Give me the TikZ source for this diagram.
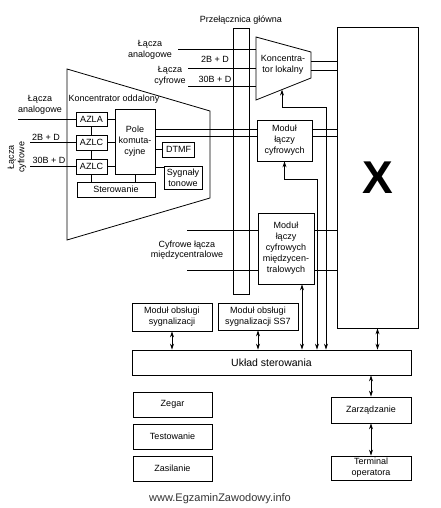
\documentclass[tikz,border=0pt]{standalone}
\usepackage{fontspec}
\setmainfont{Liberation Sans}
\usetikzlibrary{arrows.meta}

\tikzstyle{modul}=[draw,rectangle,inner sep=1pt,align=center,
    font=\fontsize{9}{11}\selectfont]
\tikzstyle{opis}=[inner sep=0pt,align=center,
    font=\fontsize{9}{10.5}\selectfont]
\tikzstyle{wire}=[line width=0.8pt]
\newcommand{\modul}[6][]{
    \node[modul,minimum width=#4pt,minimum height=#5pt,#1] at (#2) (#3) {#6};
}
\newcommand{\controlarrow}[3][]{\draw[<->,wire,#1] (#2)--(#3);}

\begin{document}
\begin{tikzpicture}[x=1pt,y=-1pt,line width=0.8pt,
    >={Stealth[length=6pt,width=4pt]}]
    \useasboundingbox (0,0) rectangle (440,508);
    % koncentrator oddalony
    \draw (67,69) -- (210,111) -- (210,198) -- (67,240) -- cycle;
    \node[opis] at (114,99) (ko) {Koncentrator oddalony};
    \modul{91.5,119}{azla}{31}{14}{AZLA}
    \modul{91.5,142.5}{azlc1}{31}{15}{AZLC}
    \modul{91.5,166.5}{azlc2}{31}{15}{AZLC}
    \modul{135,141.5}{pole}{40}{65}{Pole\\komuta-\\cyjne}
    \modul{178.5,149.5}{dtmf}{32}{15}{DTMF}
    \modul{183,177.5}{syg}{38}{23}{Sygnały\\tonowe}
    \modul{116,189.5}{ster}{78}{15}{Sterowanie}
    \draw (azla) -- (azlc1);
    \draw (azlc1) -- (azlc2);
    \draw (azlc2.south) -- (azlc2.south |- ster.north);
    \draw (pole.south) -- (pole.south |- ster.north);
    \draw (azla.east) -- (azla.east -| pole.west);
    \draw (azlc1.east) -- (azlc1.east -| pole.west);
    \draw (azlc2.east) -- (azlc2.east -| pole.west);
    \draw (dtmf.west -| pole.east) -- (dtmf.west);
    \coordinate (syg-in) at ([yshift=-2pt]syg.north west);
    \draw (syg-in -| pole.east) -- (syg-in);
    %
    \coordinate (b1) at (18,119);
    \coordinate (b2) at (30,142.5);
    \coordinate (b3) at (30,166.5);
    \draw (b1) -- (azla.west);
    \draw (b2) -- (azlc1.west);
    \draw (b3) -- (azlc2.west);
    \node[opis] at (40,105) {Łącza\\analogowe};
    \node[opis] at (46,137) {2B + D};
    \node[opis] at (49,160.5) {30B + D};
    \node[opis,rotate=90] at (17,157) {Łącza\\cyfrowe};
    % przelacznica
    \node[draw,minimum width=16pt,minimum height=266pt] at (241,161) (prz) {};
    \node[opis] at (241,20) {Przełącznica główna};
    % koncentrator lokalny
    \coordinate (kl-nw) at (256,37);
    \coordinate (kl-ne) at (311,52);
    \coordinate (kl-se) at (311,78);
    \coordinate (kl-sw) at (256,100);
    \draw (kl-nw) -- (kl-ne) -- (kl-se) -- (kl-sw) -- cycle;
    \node[opis] at (283,65) (kl) {Koncentra-\\tor lokalny};
    \coordinate (kl-b) at (282,89.6);
    %
    \node[draw,minimum width=81pt,minimum height=301pt,
        font=\fontsize{46}{46}\selectfont\bfseries] at (377.5,177.5) (X) {X};
    %
    \modul{284.5,140.5}{mlc}{55}{41}{Moduł\\łączy\\cyfrowych}
    \modul{286,248.5}{mlcm}{56}{71}{Moduł\\łączy\\cyfrowych\\międzycen-\\tralowych}
    \modul{172,317}{mos}{80}{28}{Moduł obsługi\\sygnalizacji}
    \modul{258,316.5}{ss7}{80}{27}{Moduł obsługi\\sygnalizacji SS7}
    \modul[font=\fontsize{10.5}{12}\selectfont]{271.5,362.5}{us}{279}{25}{Układ sterowania}
    \modul{172.5,404.5}{zegar}{79}{25}{Zegar}
    \modul{172.5,436.5}{test}{79}{25}{Testowanie}
    \modul{172.5,468.5}{zasil}{79}{25}{Zasilanie}
    \modul{371,410}{zarz}{80}{26}{Zarządzanie}
    \modul{371,468}{term}{80}{24}{Terminal\\operatora}
    % lacza do koncentratora lokalnego
    \coordinate (a1) at (178,49);
    \coordinate (a2) at (188,68);
    \coordinate (a3) at (188,86);
    \draw (a1) -- (a1 -| kl-nw);
    \draw (a2) -- (a2 -| kl-nw);
    \draw (a3) -- (a3 -| kl-nw);
    \node[opis] at (150,50) {Łącza\\analogowe};
    \node[opis] at (215,59) {2B + D};
    \node[opis] at (170,76) {Łącza\\cyfrowe};
    \node[opis] at (215,79) {30B + D};
    \coordinate (o1) at (311,61);
    \coordinate (o2) at (311,70);
    \draw (o1) -- (o1 -| X.west);
    \draw (o2) -- (o2 -| X.west);
    %
    \coordinate (p1) at (155,129);
    \coordinate (p2) at (155,136);
    \draw (p1) -- (p1 -| mlc.west);
    \draw (p2) -- (p2 -| mlc.west);
    \draw (p1 -| mlc.east) -- (p1 -| X.west);
    \draw (p2 -| mlc.east) -- (p2 -| X.west);
    %
    \coordinate (m1) at (187,230);
    \coordinate (m2) at (187,270);
    \draw (m1) -- (m1 -| mlcm.west);
    \draw (m2) -- (m2 -| mlcm.west);
    \draw (m1 -| mlcm.east) -- (m1 -| X.west);
    \draw (m2 -| mlcm.east) -- (m2 -| X.west);
    \node[opis] at (187,250) {Cyfrowe łącza\\międzycentralowe};
    % sterowanie
    \coordinate (c1) at (326,107);
    \coordinate (c2) at (317,179);
    \coordinate (c3) at ([xshift=16pt]mlcm.south);
    \draw[<->] (kl-b) |- (c1) -- (c1 |- us.north);
    \draw[<->] (mlc.south) |- (c2) -- (c2 |- us.north);
    \controlarrow{c3}{c3 |- us.north}
    \controlarrow{X.south}{X.south |- us.north}
    \controlarrow{mos}{mos |- us.north}
    \controlarrow{ss7}{ss7 |- us.north}
    \controlarrow{us.south -| zarz}{zarz}
    \controlarrow{zarz}{term}
    %
    \node[font=\fontsize{11}{11}\selectfont,text=black!80] at (220,499) {www.EgzaminZawodowy.info};
\end{tikzpicture}
\end{document}
